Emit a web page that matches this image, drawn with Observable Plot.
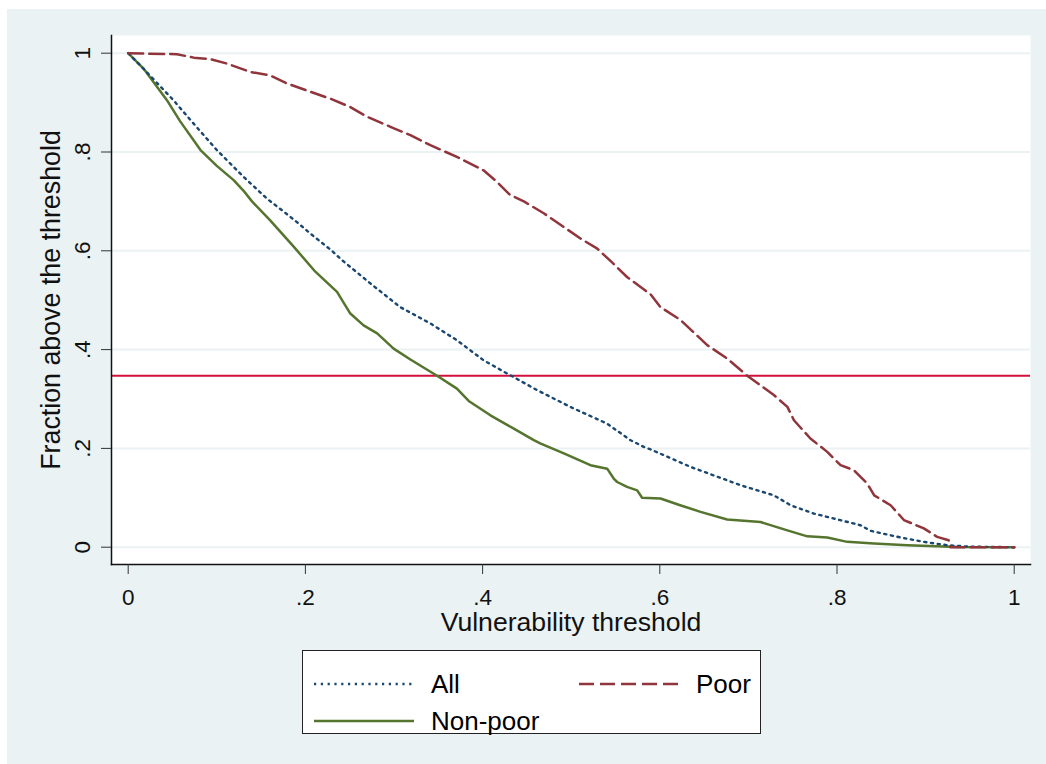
<!DOCTYPE html>
<html>
<head>
<meta charset="utf-8">
<script src="https://cdn.jsdelivr.net/npm/d3@7"></script>
<script src="https://cdn.jsdelivr.net/npm/@observablehq/plot@0.6"></script>
<style>
  html, body { margin: 0; padding: 0; background: #ffffff; }
  body { width: 1046px; height: 764px; position: relative; overflow: hidden;
         font-family: "Liberation Sans", Arial, sans-serif; }
  #panel { position: absolute; left: 7px; top: 9px; width: 1039px; height: 755px; background: #EAF2F3; }
  #chart { position: absolute; left: 0; top: 0; }
  #legend { position: absolute; left: 295px; top: 641px; width: 457px; height: 82px;
            background: #ffffff; border: 1px solid #222; }
  .item { position: absolute; display: flex; align-items: center; font-size: 26px; color: #000; }
  .item svg { display: block; margin-right: 17px; }
</style>
</head>
<body>
<div id="panel">
  <div id="chart"></div>
  <div id="legend"></div>
</div>
<script>
// ---- data ----
const xTicks = [0, 0.2, 0.4, 0.6, 0.8, 1];
const yTicks = [0, 0.2, 0.4, 0.6, 0.8, 1];
const xTitle = "Vulnerability threshold";
const yTitle = "Fraction above the threshold";
const referenceLevel = 0.347;

const seriesNames = ["All", "Poor", "Non-poor"];

const allX = [0, .017, .034, .051, .075, .100, .13, .157, .175, .1905, .2055, .23, .2394, .2733, .307, .341, .371, .401, .4277, .4615, .499, .5406, .567, .582, .5895, .6347, .691, .7287, .7476, .774, .7965, .8266, .838, .872, .898, .9245, .95, 1];
const allY = [1, .969, .937, .905, .855, .804, .750, .705, .680, .658, .635, .60, .584, .534, .486, .453, .419, .3785, .3516, .318, .284, .25, .2166, .203, .198, .1626, .1255, .105, .085, .068, .058, .0445, .033, .0196, .0108, .004, .001, 0];

const poorX = [0, .055, .074, .093, .1115, .138, .16, .179, .2055, .228, .2507, .27, .296, .3185, .341, .371, .401, .416, .431, .4465, .469, .4917, .5104, .529, .547, .563, .5895, .6008, .6234, .6535, .676, .6987, .7287, .744, .7514, .77, .789, .804, .819, .834, .842, .8605, .8755, .898, .913, .926, .928, 1];
const poorY = [1, .998, .991, .988, .979, .962, .955, .939, .922, .908, .891, .871, .851, .834, .814, .79, .763, .74, .713, .70, .676, .648, .625, .605, .575, .547, .512, .486, .46, .409, .382, .347, .308, .284, .257, .22, .193, .166, .156, .129, .105, .085, .055, .038, .021, .014, 0, 0];

const nonPoorX = [0, .0173, .030, .0437, .0587, .0816, .1000, .119, .13, .1397, .16, .187, .21, .2357, .2507, .2657, .281, .2996, .3185, .3486, .371, .3843, .4088, .4352, .4578, .465, .4917, .5217, .5406, .548, .5519, .563, .5745, .58, .6008, .623, .646, .676, .7137, .744, .7665, .789, .8116, .8417, .8794, .936, 1];
const nonPoorY = [1, .969, .938, .905, .862, .804, .772, .743, .722, .70, .662, .608, .56, .517, .473, .449, .433, .402, .38, .347, .321, .296, .267, .24, .2166, .21, .19, .166, .159, .139, .132, .122, .115, .10, .0985, .085, .0715, .056, .051, .034, .022, .0196, .0108, .0074, .004, .0006, 0];

// ---- styling ----
const styles = {
  "All":      {stroke: "#1a476f", strokeWidth: 2.4, strokeDasharray: "2.2,4.6"},
  "Poor":     {stroke: "#90353b", strokeWidth: 2.5, strokeDasharray: "15,6"},
  "Non-poor": {stroke: "#55752f", strokeWidth: 2.5, strokeDasharray: null}
};

const toRows = (xs, ys) => xs.map((x, i) => ({x, y: ys[i]}));
const series = {
  "All": toRows(allX, allY),
  "Poor": toRows(poorX, poorY),
  "Non-poor": toRows(nonPoorX, nonPoorY)
};

const fmt = d => d === 0 ? "0" : d === 1 ? "1" : String(d).replace(/^0/, "");

const chart = Plot.plot({
  width: 1039,
  height: 640,
  marginLeft: 104,
  marginRight: 16,
  marginTop: 26,
  marginBottom: 85,
  insetLeft: 16.7,
  insetRight: 16.3,
  insetTop: 17.7,
  insetBottom: 17.3,
  style: {background: "transparent", fontFamily: "'Liberation Sans', Arial, sans-serif", color: "#111"},
  x: {domain: [0, 1], label: null},
  y: {domain: [0, 1], label: null},
  marks: [
    Plot.frame({fill: "white", stroke: null}),
    Plot.gridY(yTicks, {stroke: "#EAF2F3", strokeOpacity: 1, strokeWidth: 2}),
    Plot.ruleY([referenceLevel], {stroke: "#D40F3C", strokeWidth: 2}),
    ...["Non-poor", "All", "Poor"].map(name =>
      Plot.line(series[name], {x: "x", y: "y", ...styles[name], strokeLinejoin: "round"})
    ),
    Plot.frame({anchor: "left", stroke: "#111", strokeWidth: 1.5}),
    Plot.frame({anchor: "bottom", stroke: "#111", strokeWidth: 1.5}),
    Plot.axisX({ticks: xTicks, tickSize: 10, tickPadding: 15, tickFormat: fmt, fontSize: 22.5, label: null, stroke: "#333"}),
    Plot.axisY({ticks: yTicks, tickSize: 10, tickFormat: () => "", label: null, stroke: "#333"}),
    Plot.text(yTicks, {y: d => d, text: fmt, frameAnchor: "left", dx: -29, rotate: -90,
      textAnchor: "middle", lineAnchor: "middle", fontSize: 22.5, fill: "#111"}),
    Plot.text([xTitle], {frameAnchor: "bottom", dy: 58, lineAnchor: "middle", fontSize: 26.6, fill: "#111"}),
    Plot.text([yTitle], {frameAnchor: "left", dx: -60, rotate: -90, textAnchor: "middle",
      lineAnchor: "middle", fontSize: 26.8, fill: "#111"})
  ]
});
document.getElementById("chart").appendChild(chart);

// ---- legend ----
const legendPos = {
  "All": {left: 11, top: 33},
  "Poor": {left: 276, top: 33},
  "Non-poor": {left: 11, top: 70}
};
const legend = document.getElementById("legend");
for (const name of seriesNames) {
  const s = styles[name];
  const item = document.createElement("div");
  item.className = "item";
  item.style.left = legendPos[name].left + "px";
  item.style.top = (legendPos[name].top - 16) + "px";
  item.style.height = "32px";
  item.innerHTML =
    `<svg width="100" height="8"><line x1="0" x2="100" y1="4" y2="4" stroke="${s.stroke}" stroke-width="${s.strokeWidth}"` +
    (s.strokeDasharray ? ` stroke-dasharray="${s.strokeDasharray}"` : "") + `/></svg><span>${name}</span>`;
  legend.appendChild(item);
}
</script>
</body>
</html>
